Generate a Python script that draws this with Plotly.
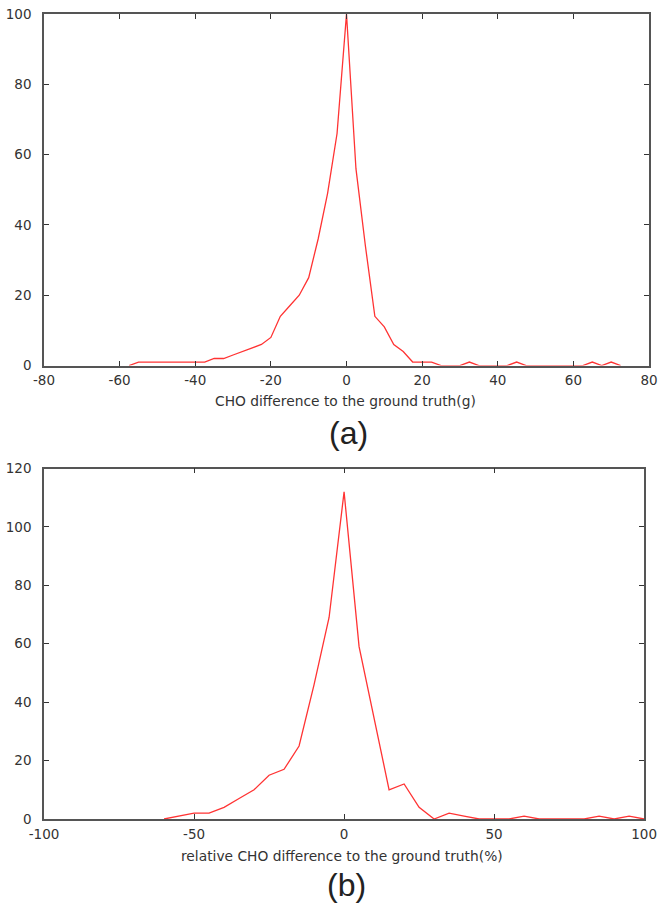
import plotly.graph_objects as go

# (a) absolute CHO difference histogram, bins of 2.5 g
diff_g = [-57.5, -55, -52.5, -50, -47.5, -45, -42.5, -40, -37.5, -35, -32.5, -30,
          -27.5, -25, -22.5, -20, -17.5, -15, -12.5, -10, -7.5, -5, -2.5, 0,
          2.5, 5, 7.5, 10, 12.5, 15, 17.5, 20, 22.5, 25, 27.5, 30, 32.5, 35,
          37.5, 40, 42.5, 45, 47.5, 50, 52.5, 55, 57.5, 60, 62.5, 65, 67.5, 70, 72.5]
count_g = [0, 1, 1, 1, 1, 1, 1, 1, 1, 2, 2, 3,
           4, 5, 6, 8, 14, 17, 20, 25, 36, 49, 66, 100,
           56, 34, 14, 11, 6, 4, 1, 1, 1, 0, 0, 0, 1, 0,
           0, 0, 0, 1, 0, 0, 0, 0, 0, 0, 0, 1, 0, 1, 0]

# (b) relative CHO difference histogram, bins of 5 %
diff_pct = [-60, -55, -50, -45, -40, -35, -30, -25, -20, -15, -10, -5, 0,
            5, 10, 15, 20, 25, 30, 35, 40, 45, 50, 55, 60, 65, 70, 75, 80,
            85, 90, 95, 100]
count_pct = [0, 1, 2, 2, 4, 7, 10, 15, 17, 25, 46, 69, 112,
             59, 34, 10, 12, 4, 0, 2, 1, 0, 0, 0, 1, 0, 0, 0, 0,
             1, 0, 1, 0]

ticks_a = [-80, -60, -40, -20, 0, 20, 40, 60, 80]
ticks_b = [-100, -50, 0, 50, 100]

fig = go.Figure()
fig.add_trace(go.Scatter(x=diff_g, y=count_g, mode="lines",
                         line=dict(color="#ff3333", width=1.3),
                         xaxis="x", yaxis="y", showlegend=False))
fig.add_trace(go.Scatter(x=diff_pct, y=count_pct, mode="lines",
                         line=dict(color="#ff3333", width=1.3),
                         xaxis="x2", yaxis="y2", showlegend=False))

axis_style = dict(showline=True, linecolor="#555555", linewidth=1.5,
                  mirror="allticks", ticks="inside", ticklen=5,
                  tickcolor="#333333", tickwidth=1,
                  showgrid=False, zeroline=False,
                  tickfont=dict(family="DejaVu Sans", size=13.5, color="#333333"))

# plain hyphen minus signs like the original gnuplot labels
fig.update_layout(
    width=668, height=906,
    margin=dict(l=35, r=11, t=6, b=87),
    paper_bgcolor="white", plot_bgcolor="white",
    xaxis=dict(domain=[0, 1], range=[-80, 80], tickvals=ticks_a,
               ticktext=[str(t) for t in ticks_a],
               anchor="y", ticklabelstandoff=2, **axis_style),
    yaxis=dict(domain=[0.5633, 1], range=[0, 100], dtick=20,
               anchor="x", ticklabelstandoff=8, **axis_style),
    xaxis2=dict(domain=[0, 0.992], range=[-100, 100], tickvals=ticks_b,
                ticktext=[str(t) for t in ticks_b],
                anchor="y2", ticklabelstandoff=2, **axis_style),
    yaxis2=dict(domain=[0, 0.4354], range=[0, 120], dtick=20,
                anchor="x2", ticklabelstandoff=8, **axis_style),
)

# axis labels and panel captions
label_font = dict(family="DejaVu Sans", size=13.8, color="#333333")
caption_font = dict(family="Liberation Sans", size=32, color="#222222")
fig.add_annotation(text="CHO difference to the ground truth(g)", x=0.498, y=0.519,
                   xref="paper", yref="paper", yanchor="middle",
                   showarrow=False, font=label_font)
fig.add_annotation(text="(a)", x=0.503, y=0.4797, xref="paper", yref="paper",
                   yanchor="middle", showarrow=False, font=caption_font)
fig.add_annotation(text="relative CHO difference to the ground truth(%)", x=0.493, y=-0.046,
                   xref="paper", yref="paper", yanchor="middle",
                   showarrow=False, font=label_font)
fig.add_annotation(text="(b)", x=0.5, y=-0.082, xref="paper", yref="paper",
                   yanchor="middle", showarrow=False, font=caption_font)

# drop the default page margin so the figure sits at the window's corner
fig.write_html("out.html", config={"displayModeBar": False},
               post_script="document.body.style.margin='0';")
